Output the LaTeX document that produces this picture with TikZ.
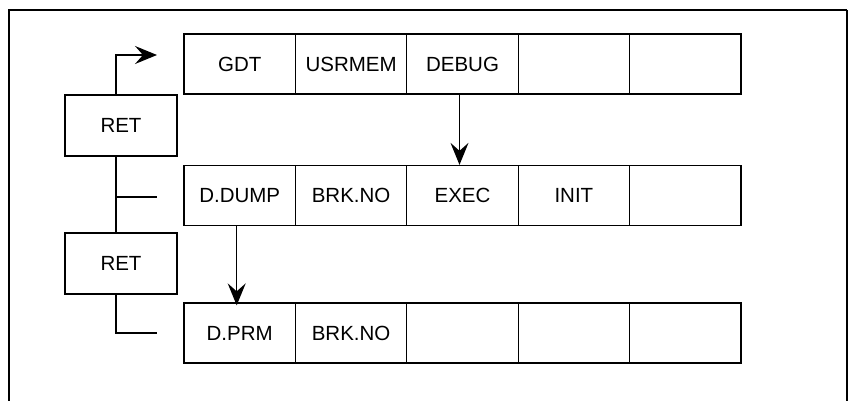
\documentclass[tikz,border=0pt]{standalone}
\usepackage{fontspec}
\setmainfont{Liberation Sans}
\usetikzlibrary{arrows.meta}
\begin{document}
\begin{tikzpicture}[x=1pt,y=-1pt,
  cell/.style={draw, line width=1.3pt, minimum width=111.4pt, minimum height=60pt, inner sep=0pt, font=\fontsize{20.5}{24}\selectfont},
  link/.style={line width=1.3pt},
  arr/.style={line width=1.3pt, -{Stealth[length=22pt, width=18pt, inset=8pt]}}]
\useasboundingbox (0,0) rectangle (848,401);
% frame
\draw[line width=2.8pt] (9,401) -- (9,10) -- (847,10);
\draw[line width=1.4pt] (847,10) -- (847,401);
% row 1
\node[cell] (r1c1) at (239.7,64) {GDT};
\node[cell] (r1c2) at (351.1,64) {USRMEM};
\node[cell] (r1c3) at (462.5,64) {DEBUG};
\node[cell] (r1c4) at (573.9,64) {};
\node[cell] (r1c5) at (685.3,64) {};
% row 2
\node[cell] (r2c1) at (239.7,195.5) {D.DUMP};
\node[cell] (r2c2) at (351.1,195.5) {BRK.NO};
\node[cell] (r2c3) at (462.5,195.5) {EXEC};
\node[cell] (r2c4) at (573.9,195.5) {INIT};
\node[cell] (r2c5) at (685.3,195.5) {};
% row 3
\node[cell] (r3c1) at (239.7,333) {D.PRM};
\node[cell] (r3c2) at (351.1,333) {BRK.NO};
\node[cell] (r3c3) at (462.5,333) {};
\node[cell] (r3c4) at (573.9,333) {};
\node[cell] (r3c5) at (685.3,333) {};
% RET boxes
\node[cell, minimum width=112pt, minimum height=61pt] (ret1) at (121,125.5) {RET};
\node[cell, minimum width=112pt, minimum height=61pt] (ret2) at (121,263.5) {RET};
% arrows between rows
\draw[arr] ([xshift=-3pt]r1c3.south) -- ([xshift=-3pt]r2c3.north);
\draw[arr] ([xshift=-3pt]r2c1.south) -- ([xshift=-3pt,yshift=-3pt]r3c1.north);
% left connectors
\coordinate (t1) at (157,55);
\coordinate (b2) at (157,197);
\coordinate (b3) at (157,333);
\coordinate (v1) at ([xshift=-5pt]ret1.south);
\draw[arr] ([xshift=-5pt]ret1.north) |- (t1);
\draw[link] (v1) -- ([xshift=-5pt]ret2.north);
\draw[link] (v1 |- b2) -- (b2);
\draw[link] ([xshift=-5pt]ret2.south) |- (b3);
\end{tikzpicture}
\end{document}
